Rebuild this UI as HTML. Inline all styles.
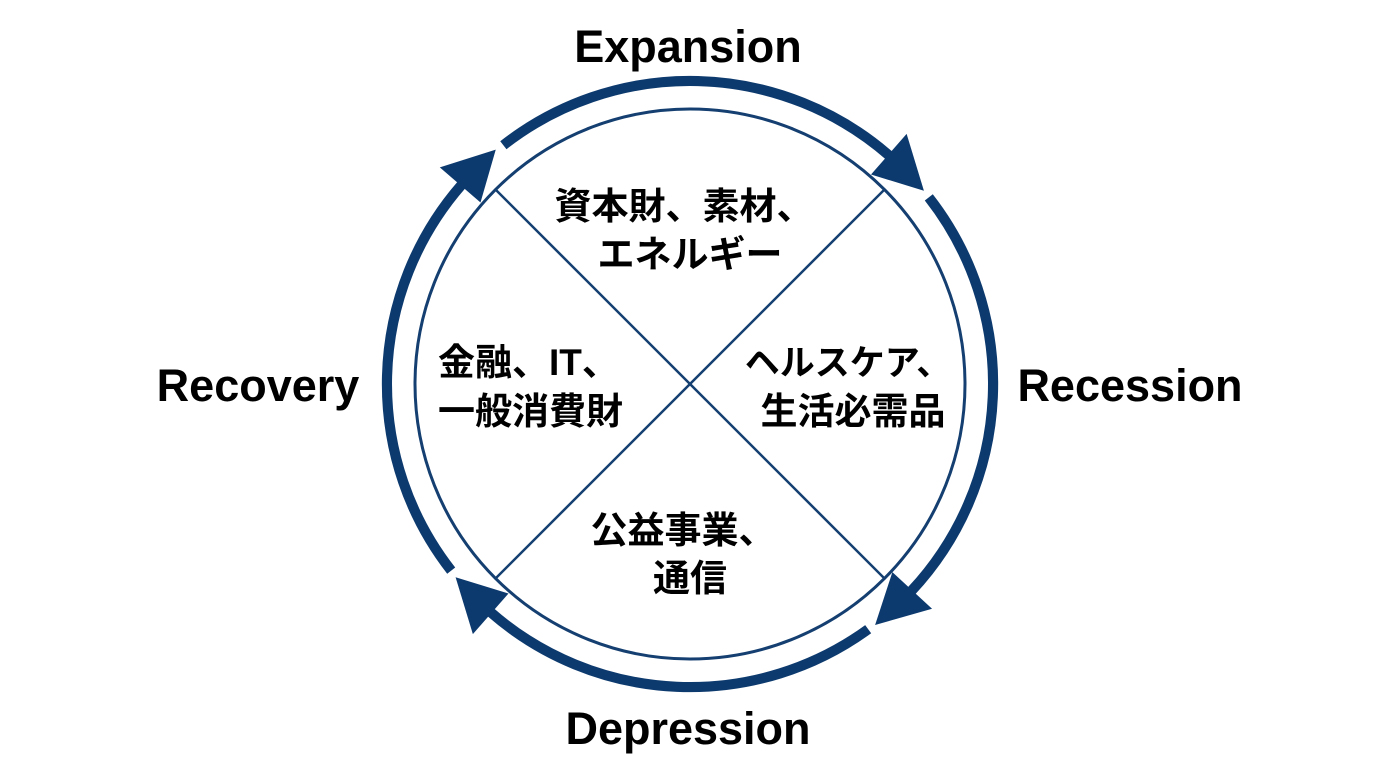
<!DOCTYPE html>
<html><head><meta charset="utf-8"><style>
html,body{margin:0;padding:0;background:#fff;}
svg{display:block;}
text{font-family:"Liberation Sans","Noto Sans CJK JP",sans-serif;font-weight:bold;fill:#000;}
</style></head><body>
<svg width="1376" height="768" viewBox="0 0 1376 768" xmlns="http://www.w3.org/2000/svg">
<circle cx="690" cy="384" r="275" fill="none" stroke="#143f70" stroke-width="3"/>
<line x1="495" y1="189" x2="885" y2="579" stroke="#143f70" stroke-width="2.5"/>
<line x1="885" y1="189" x2="495" y2="579" stroke="#143f70" stroke-width="2.5"/>
<g transform="translate(690 384) scale(1.017) translate(-690 -384)" fill="#0d3a6e" stroke="none">
<path d="M506.5 149.2 A298 298 0 0 1 885.5 159.1" fill="none" stroke="#0d3a6e" stroke-width="10"/>
<polygon points="920,194 868,178 903,138"/>
<path d="M924.8 200.5 A298 298 0 0 1 908.0 587.2" fill="none" stroke="#0d3a6e" stroke-width="10"/>
<polygon points="872,621 889,569 928,605"/>
<path d="M865.2 625.1 A298 298 0 0 1 494.5 608.9" fill="none" stroke="#0d3a6e" stroke-width="10"/>
<polygon points="459.5,574 511.5,590 476.5,630"/>
<path d="M455.2 567.5 A298 298 0 0 1 465.1 188.5" fill="none" stroke="#0d3a6e" stroke-width="10"/>
<polygon points="499,153.5 484,205.5 444,171"/>
</g>
<text x="688" y="62" font-size="45" text-anchor="middle">Expansion</text>
<text x="258" y="401" font-size="45" text-anchor="middle">Recovery</text>
<text x="1130" y="401" font-size="45" text-anchor="middle">Recession</text>
<text x="688" y="744" font-size="45" text-anchor="middle">Depression</text>
<text x="684" y="219" font-size="37" text-anchor="middle">資本財、素材、</text>
<text x="690" y="267" font-size="37" text-anchor="middle">エネルギー</text>
<text x="438" y="375" font-size="37">金融、IT、</text>
<text x="438" y="424" font-size="37">一般消費財</text>
<text x="848" y="375" font-size="35" text-anchor="middle">ヘルスケア、</text>
<text x="853" y="424" font-size="37" text-anchor="middle">生活必需品</text>
<text x="683" y="543" font-size="37" text-anchor="middle">公益事業、</text>
<text x="690" y="591" font-size="37" text-anchor="middle">通信</text>
</svg>
</body></html>
